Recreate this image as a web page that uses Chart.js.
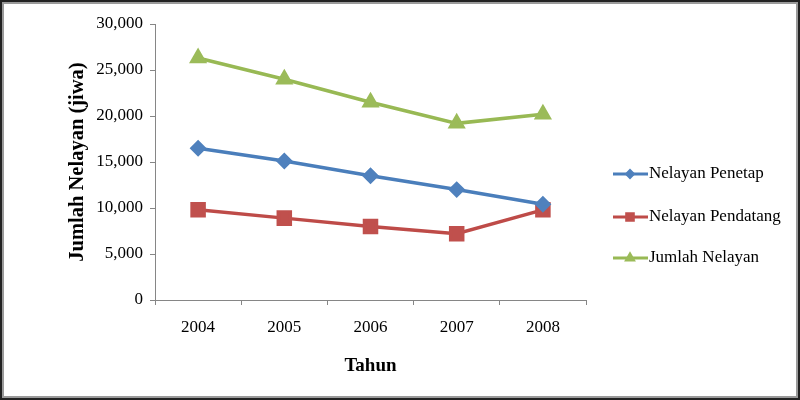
<!DOCTYPE html>
<html>
<head>
<meta charset="utf-8">
<script src="https://cdn.jsdelivr.net/npm/chart.js@4"></script>
<style>
    body { margin: 0; background: #fff; }
    #box { width: 800px; height: 400px; }
</style>
</head>
<body>
<div id="box"><canvas id="lineChart"></canvas></div>
<script>
const years = ['2004', '2005', '2006', '2007', '2008'];
const penetap = [16500, 15100, 13500, 12000, 10400];
const pendatang = [9800, 8900, 8000, 7200, 9800];
const jumlah = [26300, 24000, 21500, 19200, 20200];
const yTicks = [0, 5000, 10000, 15000, 20000, 25000, 30000];

const serif = "'Times New Roman', 'Liberation Serif', serif";

// legenda seperti di Excel: garis + penanda
const sideLegend = {
    id: 'sideLegend',
    beforeDraw(chart) {
        const c = chart.ctx;
        c.save();
        c.fillStyle = '#fff';
        c.fillRect(0, 0, chart.width, chart.height);
        c.restore();
    },
    afterDraw(chart) {
        const c = chart.ctx;
        c.save();
        const rows = [174, 217, 258];
        chart.data.datasets.forEach((set, i) => {
            const y = rows[i];
            c.strokeStyle = set.borderColor;
            c.lineWidth = 3;
            c.beginPath();
            c.moveTo(613, y);
            c.lineTo(648, y);
            c.stroke();
            c.fillStyle = set.pointBackgroundColor;
            c.strokeStyle = set.pointBackgroundColor;
            Chart.helpers.drawPoint(c, {
                pointStyle: set.pointStyle,
                radius: set.pointRadius * 0.55,
                rotation: 0,
                borderWidth: 1
            }, 630, y);
            c.fillStyle = '#000';
            c.font = '17px ' + serif;
            c.textBaseline = 'middle';
            c.fillText(set.label, 649, y);
        });
        // bingkai
        c.lineWidth = 2;
        c.strokeStyle = '#222';
        c.strokeRect(1, 1, 798, 398);
        c.strokeStyle = '#9a9a9a';
        c.strokeRect(3, 3, 794, 394);
        c.restore();
    }
};

const ctx = document.getElementById("lineChart").getContext("2d");
const lineChart = new Chart(ctx, {
    type: "line",
    data: {
        labels: years,
        datasets: [{
            label: "Nelayan Penetap",
            data: penetap,
            borderColor: '#4A7EBB',
            backgroundColor: '#4F81BD',
            pointBackgroundColor: '#4F81BD',
            pointBorderColor: '#4F81BD',
            pointStyle: 'rectRot',
            pointRadius: 6,
            borderWidth: 3.5,
        }, {
            label: "Nelayan Pendatang",
            data: pendatang,
            borderColor: '#BE4B48',
            backgroundColor: '#C0504D',
            pointBackgroundColor: '#C0504D',
            pointBorderColor: '#C0504D',
            pointStyle: 'rect',
            pointRadius: 8.5,
            borderWidth: 3.5,
        }, {
            label: "Jumlah Nelayan",
            data: jumlah,
            borderColor: '#98B954',
            backgroundColor: '#9BBB59',
            pointBackgroundColor: '#9BBB59',
            pointBorderColor: '#9BBB59',
            pointStyle: 'triangle',
            pointRadius: 7,
            borderWidth: 3.5,
        }]
    },
    options: {
        responsive: true,
        maintainAspectRatio: false,
        animation: false,
        layout: {
            padding: {
                top: 24,
                right: 214,
                bottom: 0,
                left: 0,
            }
        },
        plugins: {
            legend: { display: false },
            tooltip: { enabled: false },
        },
        scales: {
            x: {
                offset: true,
                grid: {
                    offset: true,
                    drawOnChartArea: false,
                    tickLength: 5,
                    color: '#868686',
                },
                border: { color: '#868686' },
                ticks: {
                    padding: 12,
                    color: '#000',
                    font: { family: serif, size: 17 },
                },
                title: {
                    display: true,
                    text: 'Tahun',
                    color: '#000',
                    font: { family: serif, size: 19, weight: 'bold' },
                    padding: { top: 0, bottom: 23 },
                },
                afterFit: scale => { scale.height = 100; },
            },
            y: {
                min: 0,
                max: 30000,
                afterBuildTicks: scale => {
                    scale.ticks = yTicks.map(v => ({ value: v }));
                },
                grid: {
                    drawOnChartArea: false,
                    tickLength: 5,
                    color: '#868686',
                },
                border: { color: '#868686' },
                ticks: {
                    padding: 7,
                    color: '#000',
                    font: { family: serif, size: 17 },
                    callback: function (value) {
                        return value.toLocaleString('en-US');
                    },
                },
                title: {
                    display: true,
                    text: 'Jumlah Nelayan (jiwa)',
                    color: '#000',
                    font: { family: serif, size: 20.5, weight: 'bold' },
                    padding: { top: 65, bottom: 0 },
                },
                afterFit: scale => { scale.width = 155; },
            },
        },
    },
    plugins: [sideLegend],
});
</script>
</body>
</html>
